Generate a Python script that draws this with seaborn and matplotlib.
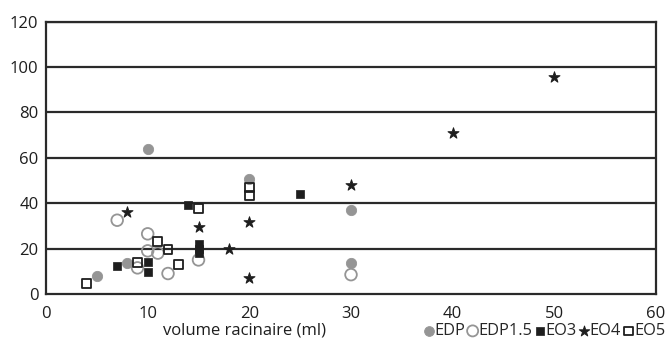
import matplotlib
matplotlib.use("Agg")
import matplotlib.pyplot as plt
import pandas as pd
import seaborn as sns

# values
edp_x = [5, 8, 10, 20, 30, 30]
edp_y = [8, 13.5, 64, 50.5, 37, 13.5]

edp15_x = [7, 10, 10, 11, 9, 12, 15, 30]
edp15_y = [32.5, 26.5, 19, 18, 11.5, 9, 15, 8.5]

eo3_x = [7, 10, 10, 14, 15, 15, 15, 25]
eo3_y = [12.5, 14, 9.5, 39, 22, 20, 18, 44]

eo4_x = [8, 15, 18, 20, 20, 30, 40, 50]
eo4_y = [36, 29.5, 20, 31.5, 7, 48, 71, 95.5]

eo5_x = [4, 9, 11, 12, 13, 15, 20, 20]
eo5_y = [4.5, 14, 23, 19.5, 13, 37.5, 47, 43.5]

x_ticks = [0, 10, 20, 30, 40, 50, 60]
y_ticks = [0, 20, 40, 60, 80, 100, 120]


def plot_roots():
    sns.set_style("white")
    plt.rcParams['font.family'] = ['Open Sans', 'DejaVu Sans']

    fig = plt.figure(figsize=(6.67, 3.45), dpi=100)
    ax = fig.add_axes([0.069, 0.148, 0.9145, 0.789])

    series = [
        ("EDP", edp_x, edp_y, dict(marker="o", s=55, color="#959595", edgecolor="#959595")),
        ("EDP1.5", edp15_x, edp15_y, dict(marker="o", s=70, facecolor="none", edgecolor="#959595", linewidth=1.3)),
        ("EO3", eo3_x, eo3_y, dict(marker="s", s=40, color="#1e1e1e", edgecolor="#1e1e1e")),
        ("EO4", eo4_x, eo4_y, dict(marker="*", s=70, color="#1e1e1e", edgecolor="#1e1e1e")),
        ("EO5", eo5_x, eo5_y, dict(marker="s", s=40, facecolor="none", edgecolor="#1e1e1e", linewidth=1.3)),
    ]
    for name, xs, ys, kw in series:
        df = pd.DataFrame({"x": xs, "y": ys})
        sns.scatterplot(data=df, x="x", y="y", ax=ax, label=name, zorder=3, **kw)

    ax.set_xlim(0, 60)
    ax.set_ylim(0, 120)
    ax.set_xticks(x_ticks)
    ax.set_yticks(y_ticks)
    ax.set_xlabel("")
    ax.set_ylabel("")
    for y in y_ticks[1:]:
        ax.axhline(y, color="#2a2a2a", lw=1.6, zorder=1)
    for sp in ax.spines.values():
        sp.set_color("#2a2a2a")
        sp.set_linewidth(1.6)
    ax.tick_params(axis="both", which="both", labelsize=12, colors="#1e1e1e",
                   length=5, width=1.4, direction="out", pad=3.5)
    ax.tick_params(axis="y", direction="inout", length=9, pad=1)

    fig.text(0.367, 0.043, "volume racinaire (ml)", ha="center", va="center",
             fontsize=12, color="#1e1e1e")

    handles, labels = ax.get_legend_handles_labels()
    ax.get_legend().remove()
    fig.legend(handles, labels, loc="center right", bbox_to_anchor=(1.012, 0.04),
               ncol=5, frameon=False, fontsize=11.8, handlelength=0.55,
               handletextpad=0.05, columnspacing=0.2, borderpad=0.1,
               markerscale=0.95)

    fig.savefig("out.png", dpi=100)


def main():
    return plot_roots()


if __name__ == "__main__":
    main()
